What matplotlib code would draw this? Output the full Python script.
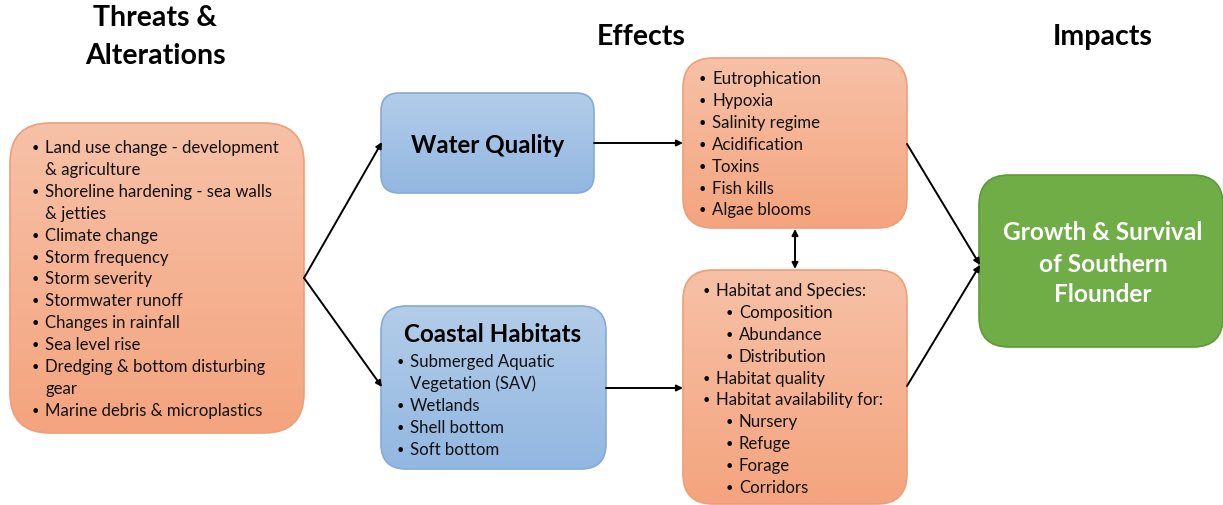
import numpy as np
import matplotlib.pyplot as plt
from matplotlib.patches import FancyBboxPatch

plt.rcParams['font.family'] = ['Lato', 'DejaVu Sans']

threats = ['Land use change - development\n& agriculture',
           'Shoreline hardening - sea walls\n& jetties',
           'Climate change', 'Storm frequency', 'Storm severity',
           'Stormwater runoff', 'Changes in rainfall', 'Sea level rise',
           'Dredging & bottom disturbing\ngear',
           'Marine debris & microplastics']
habitats = ['Submerged Aquatic\nVegetation (SAV)', 'Wetlands',
            'Shell bottom', 'Soft bottom']
wq_effects = ['Eutrophication', 'Hypoxia', 'Salinity regime', 'Acidification',
              'Toxins', 'Fish kills', 'Algae blooms']
# (level, text)
hab_effects = [(0, 'Habitat and Species:'), (1, 'Composition'), (1, 'Abundance'),
               (1, 'Distribution'), (0, 'Habitat quality'),
               (0, 'Habitat availability for:'), (1, 'Nursery'), (1, 'Refuge'),
               (1, 'Forage'), (1, 'Corridors')]

W, H = 1223, 506
fig = plt.figure(figsize=(W / 100, H / 100), dpi=100)
ax = fig.add_axes([0, 0, 1, 1])
ax.set_xlim(0, W)
ax.set_ylim(H, 0)
ax.axis('off')

ORANGE = ('#f7c1a7', '#f4a47e', '#ee9e78')
BLUE = ('#b3cde9', '#92b7e1', '#85aad8')
GREEN = ('#70ad47', '#70ad47', '#5f9a3b')


def box(x0, y0, x1, y1, cols, r=30):
    top, bot, edge = cols
    p = FancyBboxPatch((x0, y0), x1 - x0, y1 - y0,
                       boxstyle='round,pad=0,rounding_size=%d' % r,
                       fc='none', ec=edge, lw=1.2, zorder=3)
    ax.add_patch(p)
    c0 = np.array(plt.matplotlib.colors.to_rgb(top))
    c1 = np.array(plt.matplotlib.colors.to_rgb(bot))
    t = np.linspace(0, 1, 100)[:, None, None]
    img = c0 * (1 - t) + c1 * t
    im = ax.imshow(img, extent=(x0, x1, y1, y0), aspect='auto', zorder=2)
    im.set_clip_path(p)


def arrow(x0, y0, x1, y1, both=False):
    ax.annotate('', xy=(x1, y1), xytext=(x0, y0),
                arrowprops=dict(arrowstyle='<|-|>' if both else '-|>',
                                color='black', lw=1.4,
                                mutation_scale=9, shrinkA=0, shrinkB=0),
                zorder=4)


def bullets(items, x, y0, step=21.9, fs=12.1):
    # x is where the text starts; bullet sits ~8px to its left
    y = y0
    for item in items:
        lvl, txt = item if isinstance(item, tuple) else (0, item)
        tx = x + lvl * 23
        for k, line in enumerate(txt.split('\n')):
            if k == 0:
                ax.text(tx - 10, y, '\u2022', fontsize=fs - 3, ha='center',
                        va='center', zorder=5)
            ax.text(tx, y, line, fontsize=fs, va='center', zorder=5,
                    color='#111111')
            y += step


# headers
ax.text(155, 18, 'Threats &', fontsize=20.5, fontweight='bold',
        ha='center', va='center')
ax.text(155, 56, 'Alterations', fontsize=20.5, fontweight='bold',
        ha='center', va='center')
ax.text(641, 37, 'Effects', fontsize=20.5, fontweight='bold', ha='center', va='center')
ax.text(1103, 37, 'Impacts', fontsize=20.5, fontweight='bold', ha='center', va='center')

# boxes
box(10, 124, 304, 434, ORANGE, r=40)
box(381, 94, 594, 194, BLUE, r=18)
box(381, 307, 606, 470, BLUE, r=25)
box(683, 59, 907, 229, ORANGE, r=30)
box(683, 271, 907, 505, ORANGE, r=30)
box(979, 176, 1223, 348, GREEN, r=30)

bullets(threats, 45, 148)
ax.text(488, 145, 'Water Quality', fontsize=17.4, fontweight='bold',
        ha='center', va='center', zorder=5)
ax.text(493, 335, 'Coastal Habitats', fontsize=17.4, fontweight='bold',
        ha='center', va='center', zorder=5)
bullets(habitats, 410, 362)
bullets(wq_effects, 712, 79)
bullets(hab_effects, 716, 291)
for line, yy in zip(['Growth & Survival', 'of Southern', 'Flounder'], [232, 264, 295]):
    ax.text(1103, yy, line, fontsize=17.6, fontweight='bold', color='white',
            ha='center', va='center', zorder=5)

# arrows
arrow(304, 279, 382, 143)
arrow(304, 279, 382, 388)
arrow(594, 144, 683, 144)
arrow(606, 389, 683, 389)
arrow(795, 230, 795, 270, both=True)
arrow(907, 145, 980, 266)
arrow(907, 387, 980, 266)

fig.savefig('out.png', dpi=100)
